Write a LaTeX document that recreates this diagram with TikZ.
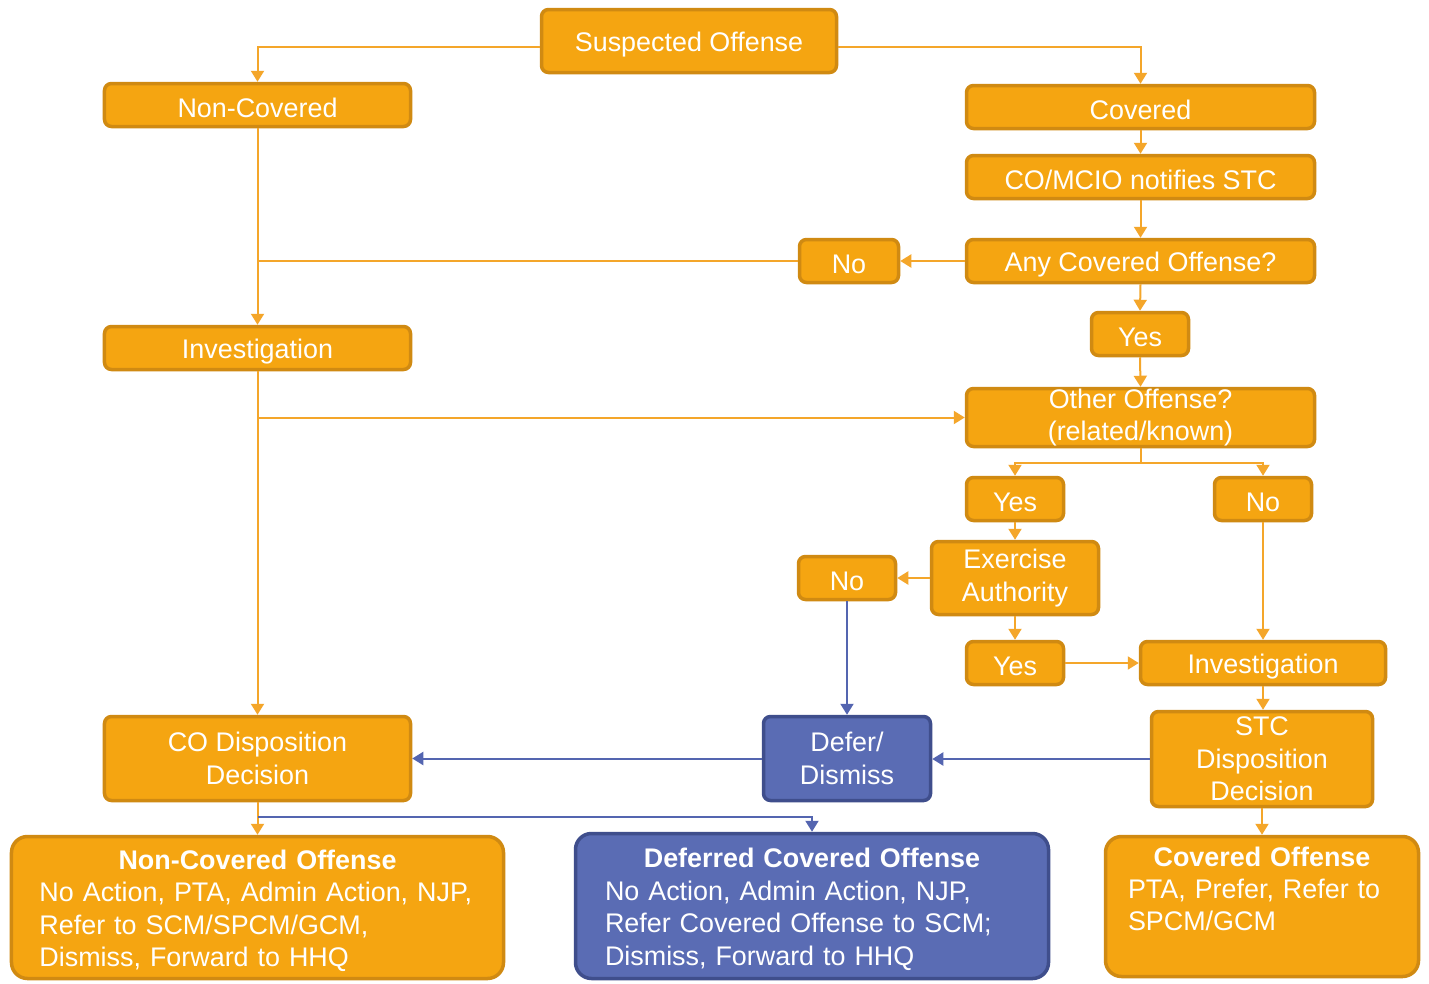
\documentclass[tikz,border=0pt]{standalone}
\usepackage{fontspec}
\setmainfont{Liberation Sans}
\usetikzlibrary{arrows.meta}
\definecolor{ofill}{HTML}{F5A511}
\definecolor{oline}{HTML}{D08A12}
\definecolor{bfill}{HTML}{5A6CB4}
\definecolor{bline}{HTML}{3F4E8C}
\definecolor{olink}{HTML}{F4A62A}
\definecolor{blink}{HTML}{5465B0}
% a tall invisible rule that lowers the text a little inside each box
\newcommand\boxstrut{\rule{0pt}{26bp}}
\begin{document}
\begin{tikzpicture}[x=1bp,y=-1bp,
  box/.style={draw=oline, fill=ofill, line width=3.5bp, rounded corners=7bp,
    text=white, align=center, inner sep=0pt, font=\fontsize{27}{32.5}\selectfont,
    execute at begin node=\boxstrut},
  bbox/.style={box, draw=bline, fill=bfill},
  sz/.style 2 args={minimum width=#1bp, minimum height=#2bp},
  big/.style={rounded corners=16bp, align=left},
  arr/.style={draw=olink, line width=2bp, -{Triangle[width=13bp,length=11bp]}},
  link/.style={draw=olink, line width=2bp},
  barr/.style={arr, draw=blink},
]
\fill[white] (0,0) rectangle (1429,983);
\useasboundingbox (0,0) rectangle (1429,983);

% boxes
\node[box, sz={295}{63}] (so) at (689,41) {Suspected Offense};
\node[box, sz={306}{43}] (nc) at (257.5,105) {Non-Covered};
\node[box, sz={348}{43}] (cov) at (1140.5,107) {Covered};
\node[box, sz={348}{43}] (mcio) at (1140.5,177) {CO/MCIO notifies STC};
\node[box, sz={348}{43}] (any) at (1140.5,261) {Any Covered Offense?};
\node[box, sz={99}{43}] (noA) at (849,261) {No};
\node[box, sz={97}{43}] (yesA) at (1140,334) {Yes};
\node[box, sz={306}{43}] (invL) at (257.5,348) {Investigation};
\node[box, sz={348}{58}] (oth) at (1140.5,417.5) {Other Offense?\\(related/known)};
\node[box, sz={97}{43}] (yesB) at (1015,499) {Yes};
\node[box, sz={97}{43}] (noB) at (1263,499) {No};
\node[box, sz={167}{73}] (ex) at (1015,578) {Exercise\\Authority};
\node[box, sz={97}{43}] (noC) at (847,578) {No};
\node[box, sz={97}{43}] (yesC) at (1015,663) {Yes};
\node[box, sz={245}{43}] (invR) at (1263,663) {Investigation};
\node[box, sz={221}{95}] (stc) at (1262,759) {STC\\Disposition\\Decision};
\node[bbox, sz={167}{84}] (dd) at (847,758.5) {Defer/\\Dismiss};
\node[box, sz={306}{84}] (cod) at (257.5,758.5) {CO Disposition\\Decision};

\node[box, big, sz={492}{142}, text width=436bp] (nco) at (257.5,907.5)
  {\makebox[436bp]{\bfseries Non-Covered Offense}\\No Action, PTA, Admin Action, NJP,\\Refer to SCM/SPCM/GCM,\\Dismiss, Forward to HHQ};
\node[bbox, big, sz={473}{145}, text width=414bp] (dco) at (812,906)
  {\makebox[414bp]{\bfseries Deferred Covered Offense}\\No Action, Admin Action, NJP,\\Refer Covered Offense to SCM;\\Dismiss, Forward to HHQ};
\node[box, big, sz={313}{140}, text width=268bp] (cvo) at (1262,906.5)
  {\makebox[268bp]{\bfseries Covered Offense}\\PTA, Prefer, Refer to\\SPCM/GCM\\\strut};

% orange connectors
\draw[arr] ([yshift=-6bp]so.west) -| (nc.north);
\draw[arr] ([yshift=-6bp]so.east) -| (cov.north);
\draw[arr] (cov.south) -- (mcio.north);
\draw[arr] (mcio.south) -- (any.north);
\draw[arr] (any.west) -- (noA.east);
\draw[link] (noA.west) -- (noA.west -| nc.south);
\draw[arr] (any.south) -- (yesA.north);
\draw[arr] (yesA.south) -- (oth.north);
\draw[arr] (nc.south) -- (invL.north);
\draw[arr] (invL.south) -- (cod.north);
\draw[arr] (oth.west -| invL.south) -- (oth.west);
\draw[arr] (oth.south) -- ++(0,15) -| (yesB.north);
\draw[arr] (oth.south) -- ++(0,15) -| (noB.north);
\draw[arr] (yesB.south) -- (ex.north);
\draw[arr] (ex.west) -- (noC.east);
\draw[arr] (ex.south) -- (yesC.north);
\draw[arr] (yesC.east) -- (invR.west);
\draw[arr] (noB.south) -- (noB.south |- invR.north);
\draw[arr] (invR.south) -- (invR.south |- stc.north);
\draw[arr] (stc.south) -- (cvo.north);
\draw[arr] (cod.south) -- (nco.north);

% blue connectors
\draw[barr] (noC.south) -- (dd.north);
\draw[barr] (stc.west) -- (stc.west -| dd.east);
\draw[barr] (dd.west) -- (cod.east);
\draw[barr] ([yshift=-15bp]cod.south) -| (dco.north);
\end{tikzpicture}
\end{document}
